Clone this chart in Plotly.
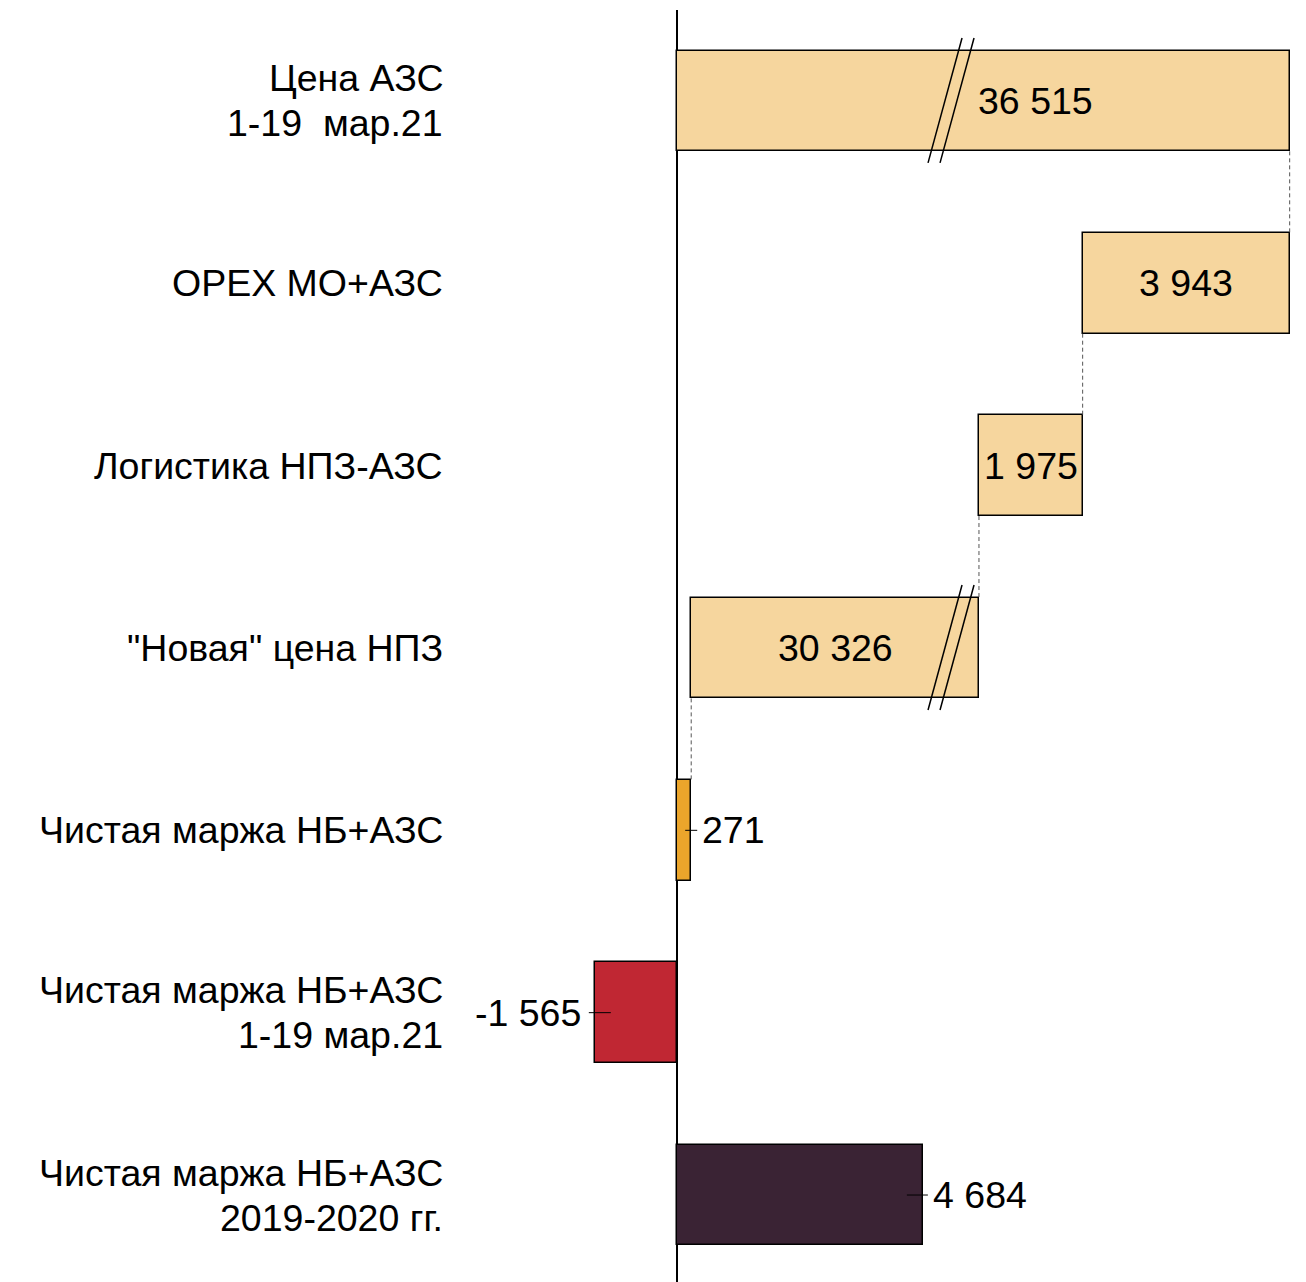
import plotly.graph_objects as go

# ---- data ----
categories = [
    "Цена АЗС<br>1-19 \u00a0мар.21",
    "OPEX МО+АЗС",
    "Логистика НПЗ-АЗС",
    "\"Новая\" цена НПЗ",
    "Чистая маржа НБ+АЗС",
    "Чистая маржа НБ+АЗС<br>1-19 мар.21",
    "Чистая маржа НБ+АЗС<br>2019-2020 гг.",
]
price_azs = 36515
opex = 3943
logistics = 1975
new_refinery_price = 30326
net_margin = 271
net_margin_mar21 = -1565
net_margin_2019_2020 = 4684

# ---- styling ----
colors = ["#F6D69E", "#F6D69E", "#F6D69E", "#F6D69E", "#EBA52B", "#C02733", "#3A2334"]
FONT = "Liberation Sans, Arial, sans-serif"
FS = 37.5
LINE_H = 45
AXIS_BREAK = (5220, 30065)  # hidden interval of the value axis
BAR_W = 0.553


def disp(v):
    """map a real value onto the broken axis"""
    if v <= AXIS_BREAK[0]:
        return v
    return v - (AXIS_BREAK[1] - AXIS_BREAK[0])


# waterfall segments (start, end)
s_opex = price_azs - opex
s_log = s_opex - logistics
segments = [
    (0, price_azs),
    (s_opex, price_azs),
    (s_log, s_opex),
    (net_margin, net_margin + new_refinery_price),
    (0, net_margin),
    (net_margin_mar21, 0),
    (0, net_margin_2019_2020),
]
values = [price_azs, opex, logistics, new_refinery_price, net_margin,
          net_margin_mar21, net_margin_2019_2020]

ypos = list(range(len(categories)))
bases = [disp(a) for a, b in segments]
lengths = [disp(b) - disp(a) for a, b in segments]

fig = go.Figure()
fig.add_trace(go.Bar(
    orientation="h", y=ypos, x=lengths, base=bases, width=BAR_W,
    marker=dict(color=colors, line=dict(color="black", width=1.5)),
    hoverinfo="skip", showlegend=False,
))


def fmt(v):
    return f"{v:,}".replace(",", " ")


annotations = []
shapes = []

# category labels (one annotation per line for exact line spacing)
for i, lab in enumerate(categories):
    lines = lab.split("<br>")
    n = len(lines)
    for k, ln in enumerate(lines):
        annotations.append(dict(xref="paper", x=-0.0175, y=i, yref="y",
                                yshift=((n - 1) / 2 - k) * LINE_H, text=ln,
                                xanchor="right", yanchor="middle", showarrow=False))

# inside labels
for i in [0, 1, 2, 3]:
    a, b = segments[i]
    if i == 0:
        annotations.append(dict(x=AXIS_BREAK[0], xshift=84, y=i, text=fmt(values[i]),
                                xanchor="center", yanchor="middle", showarrow=False))
    else:
        annotations.append(dict(x=(disp(a) + disp(b)) / 2, y=i, text=fmt(values[i]),
                                xanchor="center", yanchor="middle", showarrow=False))
# outside labels with leader ticks
annotations.append(dict(x=disp(net_margin), xshift=9, y=4, text=fmt(net_margin),
                        xanchor="left", yanchor="middle", showarrow=False))
shapes.append(dict(type="line", xref="x", yref="y", xsizemode="pixel", xanchor=disp(net_margin),
                   x0=-6, x1=6, y0=4, y1=4, line=dict(color="black", width=1)))
annotations.append(dict(x=net_margin_mar21, xshift=-12, y=5, text=fmt(net_margin_mar21),
                        xanchor="right", yanchor="middle", showarrow=False))
shapes.append(dict(type="line", xref="x", yref="y", xsizemode="pixel", xanchor=net_margin_mar21,
                   x0=-6, x1=16, y0=5, y1=5, line=dict(color="black", width=1)))
annotations.append(dict(x=net_margin_2019_2020, xshift=8, y=6, text=fmt(net_margin_2019_2020),
                        xanchor="left", yanchor="middle", showarrow=False))
shapes.append(dict(type="line", xref="x", yref="y", xsizemode="pixel", xanchor=net_margin_2019_2020,
                   x0=-16, x1=5, y0=6, y1=6, line=dict(color="black", width=1)))

# connectors between waterfall steps
conn = [(0, 1, price_azs), (1, 2, s_opex), (2, 3, s_log), (3, 4, net_margin)]
for i, j, v in conn:
    shapes.append(dict(type="line", xref="x", yref="y", x0=disp(v), x1=disp(v),
                       y0=i + BAR_W / 2, y1=j - BAR_W / 2,
                       line=dict(color="#555555", width=1, dash="4px,3px")))

# axis-break marks
for i in [0, 3]:
    for off in (-12, 0):
        shapes.append(dict(type="line", xref="x", yref="y", xsizemode="pixel",
                           xanchor=AXIS_BREAK[0], x0=-11 + off, x1=23 + off,
                           y0=i + 0.34, y1=i - 0.345,
                           line=dict(color="black", width=1.5)))

fig.update_layout(
    width=1306, height=1282,
    margin=dict(l=460, r=6, t=10, b=0, autoexpand=False),
    plot_bgcolor="white", paper_bgcolor="white",
    font=dict(family=FONT, size=FS, color="black"),
    annotations=annotations, shapes=shapes, bargap=0,
    xaxis=dict(range=[-4133, 11867], showgrid=False, showticklabels=False, ticks="",
               zeroline=True, zerolinecolor="black", zerolinewidth=1.5, showline=False),
    yaxis=dict(range=[6.477, -0.4986], tickvals=ypos, showticklabels=False,
               showgrid=False, zeroline=False, ticks="", showline=False),
)

fig.write_html("out.html", config={"displayModeBar": False},
               post_script="document.body.style.margin='0';")
